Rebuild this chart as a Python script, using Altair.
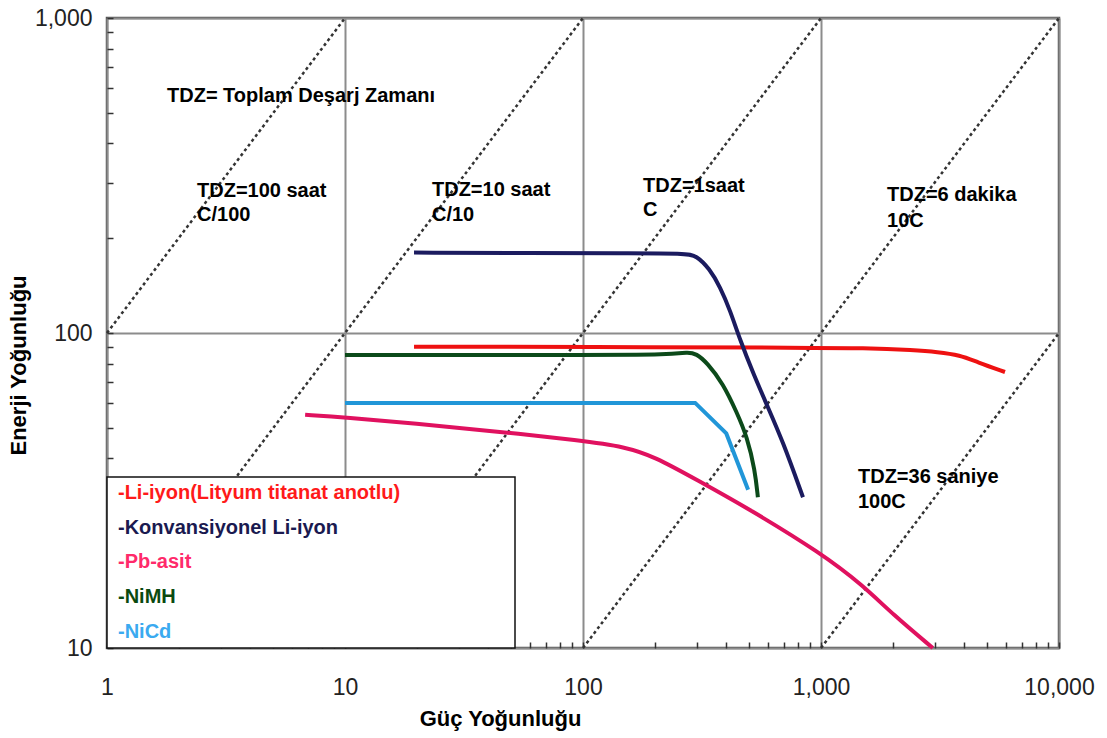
import altair as alt
import pandas as pd

# ---------------- data ----------------
# Li-ion (lithium titanate anode) - red
red_x = [19.5, 100, 1000, 1460, 2500, 3070, 3840, 4520, 5930]
red_y = [90.5, 90.3, 89.8, 89.6, 88.2, 87.1, 85.1, 80.9, 75.2]
# Conventional Li-ion - navy
navy_x = [19.5, 60, 150, 270, 300, 340, 377, 415, 457, 518, 593, 692, 840]
navy_y = [180, 179.5, 179, 179, 176, 160, 140, 118, 95, 74.7, 59, 45.2, 30.1]
# Pb-acid - crimson
pb_x = [6.8, 10, 20, 40, 100, 150, 200, 300, 500, 1000, 1500, 2000, 2950]
pb_y = [55, 54, 51.5, 49, 45.5, 43.5, 40.5, 34.2, 27.6, 20, 15.8, 12.8, 10]
# NiMH - dark green
nimh_x = [10, 100, 239, 273, 300, 332, 387, 444, 489, 528, 543]
nimh_y = [85.1, 85.1, 85.3, 87.1, 86, 80.4, 69.3, 55.7, 46.8, 36.7, 30.1]
# NiCd - light blue (piecewise linear)
nicd_x = [10, 296, 400, 494]
nicd_y = [60, 60, 48, 31.8]

series_names = ["Li-iyon titanat", "Konvansiyonel Li-iyon", "Pb-asit", "NiMH"]
series_colors = ["#ee1111", "#1b1b5f", "#e0115f", "#0c4a1a"]
nicd_color = "#2196d8"

# discharge-time reference lines (endpoints)
tdz_names = ["100 saat", "10 saat", "1 saat", "6 dakika", "36 saniye"]
tdz_x0 = [1, 1, 10, 100, 1000]
tdz_y0 = [100, 10, 10, 10, 10]
tdz_x1 = [10, 100, 1000, 10000, 10000]
tdz_y1 = [1000, 1000, 1000, 1000, 100]

# annotations
ann_text = ["TDZ= Toplam Deşarj Zamanı",
            "TDZ=100 saat", "C/100",
            "TDZ=10 saat", "C/10",
            "TDZ=1saat", "C",
            "TDZ=6 dakika", "10C",
            "TDZ=36 saniye", "100C"]
ann_x = [1.787, 2.389, 2.389, 23.2, 23.2, 178.7, 178.7, 1894, 1894, 1430, 1430]
ann_y = [565.6, 282.3, 236.9, 284.4, 236.9, 292.9, 245.7, 274.2, 226.8, 34.9, 29.1]

# legend box entries
leg_text = ["-Li-iyon(Lityum titanat anotlu)", "-Konvansiyonel Li-iyon",
            "-Pb-asit", "-NiMH", "-NiCd"]
leg_color = ["#ff1a1a", "#1a1a50", "#ff2a6a", "#0a4a10", "#3aaaf0"]
leg_x = [1.112] * 5
leg_y = [31.06, 24.05, 18.75, 14.52, 11.24]

x_ticks = [1, 2, 3, 4, 5, 6, 7, 8, 9, 10, 20, 30, 40, 50, 60, 70, 80, 90,
           100, 200, 300, 400, 500, 600, 700, 800, 900,
           1000, 2000, 3000, 4000, 5000, 6000, 7000, 8000, 9000, 10000]
y_ticks = [10, 20, 30, 40, 50, 60, 70, 80, 90, 100, 200, 300, 400, 500,
           600, 700, 800, 900, 1000]

# ---------------- tables ----------------
rows = []
for name, xs, ys in zip(series_names, [red_x, navy_x, pb_x, nimh_x],
                        [red_y, navy_y, pb_y, nimh_y]):
    for i, (a, b) in enumerate(zip(xs, ys)):
        rows.append({"series": name, "P": a, "E": b, "order": i})
curves = pd.DataFrame(rows)
nicd = pd.DataFrame({"P": nicd_x, "E": nicd_y, "order": range(len(nicd_x))})

tdz_rows = []
for n, a0, b0, a1, b1 in zip(tdz_names, tdz_x0, tdz_y0, tdz_x1, tdz_y1):
    tdz_rows.append({"tdz": n, "P": a0, "E": b0})
    tdz_rows.append({"tdz": n, "P": a1, "E": b1})
tdz = pd.DataFrame(tdz_rows)

ann = pd.DataFrame({"P": ann_x, "E": ann_y, "text": ann_text})
leg = pd.DataFrame({"P": leg_x, "E": leg_y, "text": leg_text, "color": leg_color})

major_x = "indexof([1,10,100,1000,10000], datum.value) >= 0"
major_y = "indexof([10,100,1000], datum.value) >= 0"

xscale = alt.Scale(type="log", domain=[1, 10000], nice=False)
yscale = alt.Scale(type="log", domain=[10, 1000], nice=False)

xaxis = alt.Axis(
    values=x_ticks,
    labelExpr=f"{major_x} ? format(datum.value, ',') : ''",
    grid=True,
    gridColor="#8c8c8c",
    gridWidth=2,
    gridOpacity={"condition": {"test": major_x, "value": 1}, "value": 0},
    domain=False,
    offset=-6,
    tickSize=6,
    tickColor="#333",
    tickWidth=1.5,
    labelPadding=28,
    labelFontSize=23,
    labelFont="Liberation Sans",
    labelColor="#222",
    labelFlush=False,
    title="Güç Yoğunluğu",
    titleFont="Liberation Sans",
    titleFontSize=22,
    titleFontWeight="bold",
    titleColor="#000",
    titleX=393,
    titleY=76,
    titleAlign="center",
    titleBaseline="middle",
)
yaxis = alt.Axis(
    values=y_ticks,
    labelExpr=f"{major_y} ? format(datum.value, ',') : ''",
    grid=True,
    gridColor="#8c8c8c",
    gridWidth=2,
    gridOpacity={"condition": {"test": major_y, "value": 1}, "value": 0},
    domain=False,
    offset=-6,
    tickSize=6,
    tickColor="#333",
    tickWidth=1.5,
    labelPadding=15,
    labelFontSize=23,
    labelFont="Liberation Sans",
    labelColor="#222",
    labelFlush=False,
    title="Enerji Yoğunluğu",
    titleFont="Liberation Sans",
    titleFontSize=22,
    titleFontWeight="bold",
    titleColor="#000",
    titleX=-95,
    titleY=347,
    titleAngle=270,
    titleAlign="center",
    titleBaseline="middle",
)

X = alt.X("P:Q", scale=xscale, axis=xaxis)
Y = alt.Y("E:Q", scale=yscale, axis=yaxis)

dashed = alt.Chart(tdz).mark_line(
    color="#333", strokeWidth=2.5, strokeDash=[3, 3]
).encode(x=X, y=Y, detail="tdz:N")

box = alt.Chart(pd.DataFrame({"k": [0]})).mark_rect(
    fill="white", stroke="#111", strokeWidth=1.5
).encode(x=alt.value(0), x2=alt.value(408), y=alt.value(459), y2=alt.value(630))

lines = alt.Chart(curves).mark_line(strokeWidth=4, interpolate="basis").encode(
    x=X, y=Y,
    color=alt.Color("series:N", scale=alt.Scale(domain=series_names, range=series_colors),
                    legend=None),
    order="order:Q",
)

nicd_line = alt.Chart(nicd).mark_line(strokeWidth=4, color=nicd_color).encode(
    x=X, y=Y, order="order:Q"
)

ann_layer = alt.Chart(ann).mark_text(
    align="left", baseline="middle", font="Liberation Sans", fontSize=20,
    fontWeight="bold", color="#000"
).encode(x=X, y=Y, text="text:N")

leg_layer = alt.Chart(leg).mark_text(
    align="left", baseline="middle", font="Liberation Sans", fontSize=20,
    fontWeight="bold"
).encode(x=X, y=Y, text="text:N", color=alt.Color("color:N", scale=None))

chart = alt.layer(dashed, box, lines, nicd_line, ann_layer, leg_layer).properties(
    width=952, height=630,
    autosize=alt.AutoSizeParams(type="none"),
    padding={"left": 107, "top": 18, "right": 48, "bottom": 90},
    background="white",
).configure_view(stroke="#555", strokeWidth=2.5)

chart.save("out.html", embed_options={"renderer": "svg", "actions": False})
